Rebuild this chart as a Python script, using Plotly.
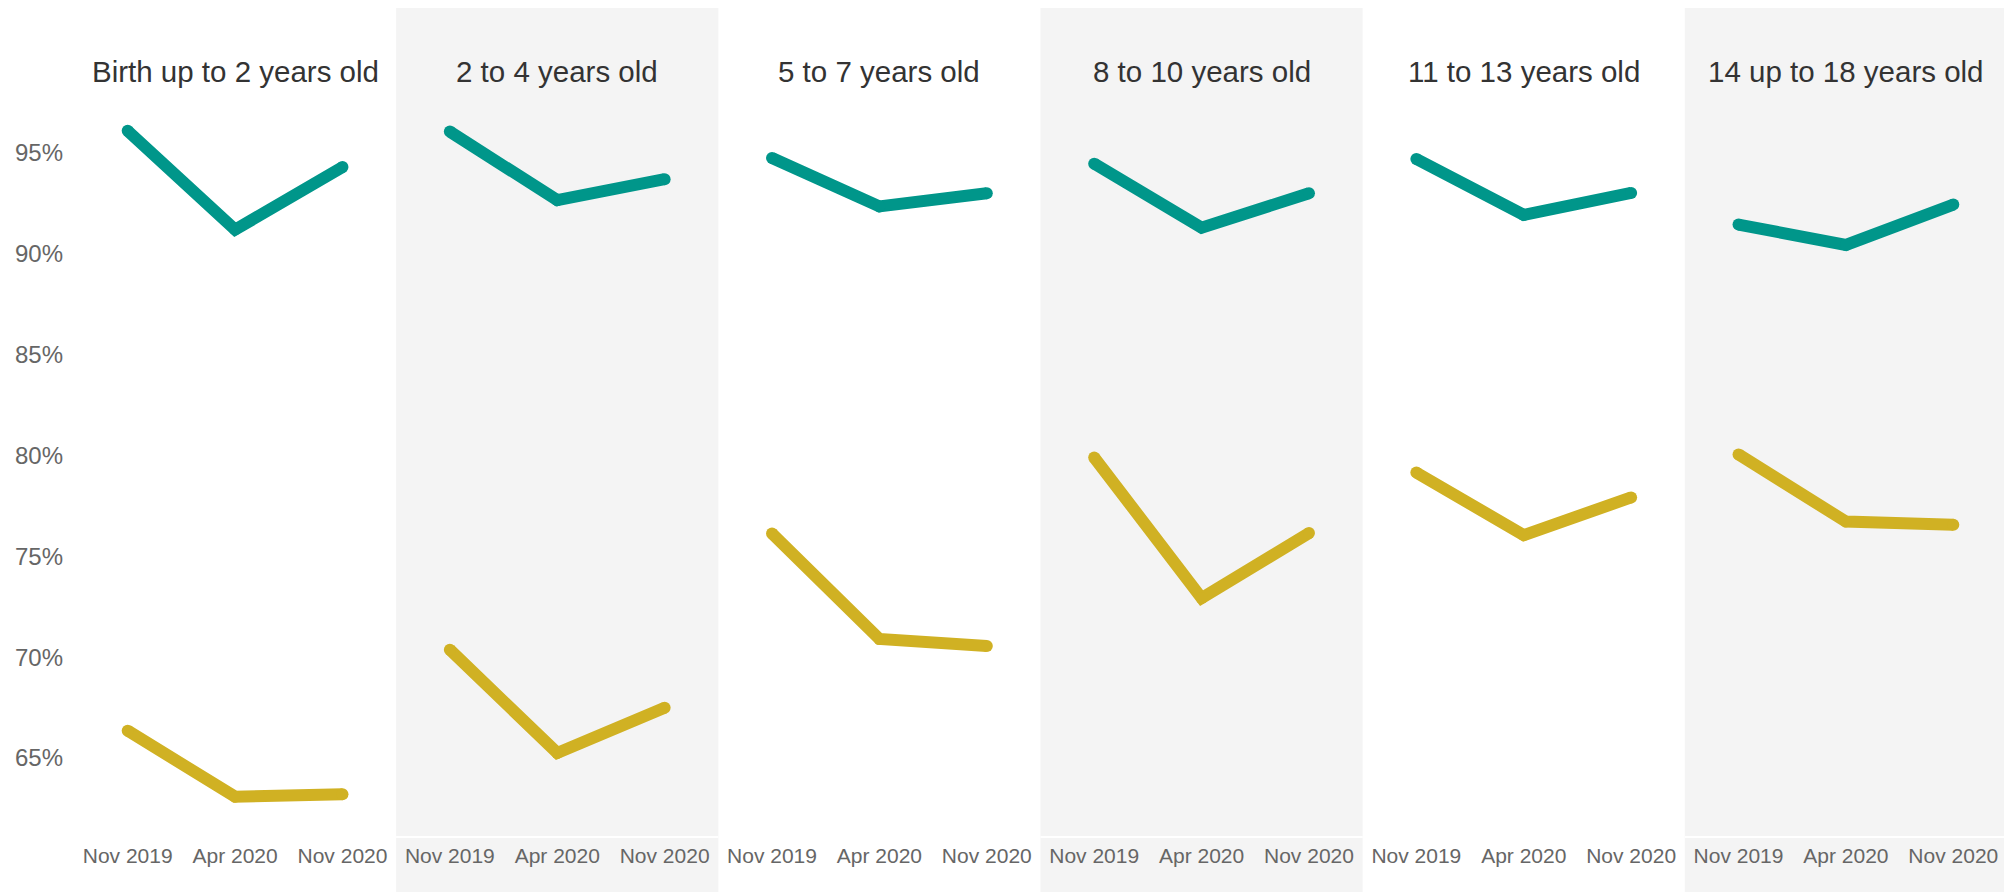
import plotly.graph_objects as go
from plotly.subplots import make_subplots

# ---- data ----
periods = ["Nov 2019", "Apr 2020", "Nov 2020"]
age_groups = [
    "Birth up to 2 years old",
    "2 to 4 years old",
    "5 to 7 years old",
    "8 to 10 years old",
    "11 to 13 years old",
    "14 up to 18 years old",
]
upper_series = [
    [96.1, 91.2, 94.3],
    [96.06, 92.66, 93.7],
    [94.75, 92.35, 93.0],
    [94.47, 91.3, 93.0],
    [94.7, 91.93, 93.02],
    [91.45, 90.44, 92.44],
]
lower_series = [
    [66.35, 63.08, 63.2],
    [70.37, 65.25, 67.49],
    [76.13, 70.9, 70.55],
    [79.9, 72.93, 76.15],
    [79.15, 76.05, 77.92],
    [80.05, 76.72, 76.57],
]
y_ticks = [65, 70, 75, 80, 85, 90, 95]
y_tick_labels = ["65%", "70%", "75%", "80%", "85%", "90%", "95%"]

# ---- style ----
TEAL = "#00968A"
GOLD = "#D0B123"
PANEL_GREY = "#F4F4F4"
FONT = "Liberation Sans, Arial, sans-serif"
PAGE_OFFSET = 8  # default body margin of the html page
W, H = 2012 - PAGE_OFFSET, 892 - PAGE_OFFSET
M_L, M_R, M_T, M_B = 74 - PAGE_OFFSET, 5, 0, 55
plot_h = H - M_T - M_B
plot_top = PAGE_OFFSET + M_T  # in window pixels
title_center = 72               # in window pixels

n = len(age_groups)
fig = make_subplots(rows=1, cols=n, shared_yaxes=True, horizontal_spacing=0)

for i in range(n):
    col = i + 1
    for vals, color, name in ((upper_series[i], TEAL, "Upper"), (lower_series[i], GOLD, "Lower")):
        fig.add_trace(
            go.Scatter(
                x=periods,
                y=vals,
                mode="lines+markers",
                line=dict(color=color, width=12),
                marker=dict(color=color, size=12, line=dict(width=0)),
                name=name,
                showlegend=False,
                hoverinfo="skip",
            ),
            row=1, col=col,
        )
    xref = "x" if col == 1 else f"x{col}"
    # panel title
    fig.add_annotation(
        text=age_groups[i],
        xref=f"{xref} domain", x=0.5,
        yref="paper", y=1 - (title_center - plot_top) / plot_h,
        showarrow=False,
        font=dict(family=FONT, size=29.5, color="#333333"),
        xanchor="center", yanchor="middle",
    )
    # alternating grey panel backgrounds
    if i % 2 == 1:
        fig.add_shape(
            type="rect", layer="below",
            xref=f"{xref} domain", x0=0, x1=1,
            yref="paper", y0=-M_B / plot_h, y1=1,
            fillcolor=PANEL_GREY, line=dict(width=0),
        )
        fig.add_shape(
            type="line", layer="below",
            xref=f"{xref} domain", x0=0, x1=1,
            yref="paper", y0=0, y1=0,
            line=dict(color="white", width=2),
        )

fig.update_xaxes(
    type="category",
    range=[-0.5, 2.5],
    showgrid=False, zeroline=False, showline=False,
    ticks="", tickfont=dict(family=FONT, size=21, color="#666666"),
    ticklabelstandoff=4,
    fixedrange=True,
)
fig.update_yaxes(
    range=[61.08, 102.19],
    tickvals=y_ticks, ticktext=y_tick_labels,
    showgrid=False, zeroline=False, showline=False,
    ticks="", tickfont=dict(family=FONT, size=24, color="#666666"),
    fixedrange=True,
)
fig.update_yaxes(ticklabelstandoff=10, row=1, col=1)

fig.update_layout(
    width=W, height=H,
    margin=dict(l=M_L, r=M_R, t=M_T, b=M_B, pad=0),
    paper_bgcolor="white",
    plot_bgcolor="rgba(0,0,0,0)",
    showlegend=False,
    font=dict(family=FONT),
)

fig.write_html("out.html")
